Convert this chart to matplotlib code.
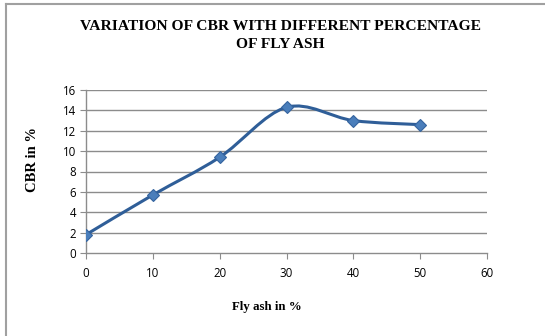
import matplotlib
matplotlib.use("Agg")
import matplotlib.pyplot as plt
from matplotlib.path import Path
from matplotlib.patches import PathPatch
from matplotlib.lines import Line2D

fly_ash = [0, 10, 20, 30, 40, 50]
cbr = [1.8, 5.7, 9.4, 14.3, 13.0, 12.6]

x_ticks = [0, 10, 20, 30, 40, 50, 60]
y_ticks = [0, 2, 4, 6, 8, 10, 12, 14, 16]

LINE_C = "#2F5E98"
MARK_C = "#4A7EBB"
GRID_C = "#8C8C8C"
TICK_FONT = "Open Sans"
SERIF = "Liberation Serif"


def smooth_path(xs, ys):
    # Bezier segments through every data point, Excel-style smoothing
    n = len(xs)
    verts = [(xs[0], ys[0])]
    codes = [Path.MOVETO]
    for i in range(n - 1):
        x0, y0 = xs[max(i - 1, 0)], ys[max(i - 1, 0)]
        x1, y1 = xs[i], ys[i]
        x2, y2 = xs[i + 1], ys[i + 1]
        x3, y3 = xs[min(i + 2, n - 1)], ys[min(i + 2, n - 1)]
        c1 = (x1 + (x2 - x0) / 6, y1 + (y2 - y0) / 6)
        c2 = (x2 - (x3 - x1) / 6, y2 - (y3 - y1) / 6)
        verts += [c1, c2, (x2, y2)]
        codes += [Path.CURVE4] * 3
    return Path(verts, codes)


fig = plt.figure(figsize=(5.45, 3.36), dpi=100)
ax = fig.add_axes([86 / 545, 1 - 253 / 336, 401 / 545, 163 / 336])

ax.set_xlim(0, 60)
ax.set_ylim(0, 16)
ax.set_xticks(x_ticks)
ax.set_yticks(y_ticks)
ax.set_xticklabels([str(v) for v in x_ticks], fontfamily=TICK_FONT, fontsize=8.3)
ax.set_yticklabels([str(v) for v in y_ticks], fontfamily=TICK_FONT, fontsize=8.3)
ax.tick_params(axis="x", length=4, width=0.8, color=GRID_C, pad=6)
ax.tick_params(axis="y", length=4, width=0.8, color=GRID_C, pad=3)

for s in ["top", "right"]:
    ax.spines[s].set_visible(False)
for s in ["left", "bottom"]:
    ax.spines[s].set_color(GRID_C)
    ax.spines[s].set_linewidth(1.0)

for v in y_ticks[1:]:
    ax.axhline(v, color=GRID_C, lw=1.0, zorder=1)

ax.add_patch(PathPatch(smooth_path(fly_ash, cbr), facecolor="none",
                       edgecolor=LINE_C, lw=2.2, zorder=3, capstyle="round"))
ax.plot(fly_ash, cbr, ls="none", marker="D", ms=6.5, mfc=MARK_C,
        mec="#35649F", mew=0.8, zorder=4)

ax.set_xlabel("Fly ash in %", fontfamily=SERIF, fontweight="bold", fontsize=9.3)
ax.set_ylabel("CBR in %", fontfamily=SERIF, fontweight="bold", fontsize=10.5)
# label positions in figure pixels
ax.xaxis.set_label_coords(267 / 545, 1 - 307 / 336, transform=fig.transFigure)
ax.yaxis.set_label_coords(33 / 545, 1 - 160 / 336, transform=fig.transFigure)
ax.xaxis.label.set_va("center")
ax.yaxis.label.set_va("center")

fig.text(280 / 545, 1 - 35 / 336,
         "VARIATION OF CBR WITH DIFFERENT PERCENTAGE\nOF FLY ASH",
         ha="center", va="center", fontfamily=SERIF, fontweight="bold",
         fontsize=11.15, linespacing=1.5)

# outer chart frame (top and left edges)
fig.add_artist(Line2D([6 / 545, 1], [1 - 3.5 / 336, 1 - 3.5 / 336],
                      color="#A0A0A0", lw=1.5))
fig.add_artist(Line2D([6 / 545, 6 / 545], [0, 1 - 3.5 / 336],
                      color="#A0A0A0", lw=1.5))

fig.savefig("out.png", dpi=100, facecolor="white")
